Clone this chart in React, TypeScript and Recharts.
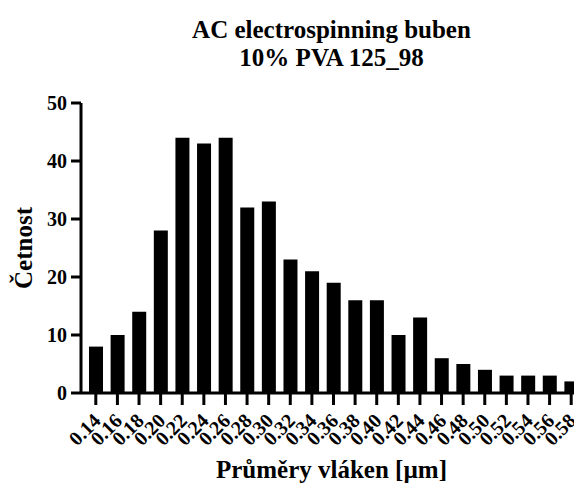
import React from 'react';
import { BarChart, Bar, XAxis, YAxis, Label } from 'recharts';

const diameters = [
    '0.14', '0.16', '0.18', '0.20', '0.22', '0.24', '0.26', '0.28', '0.30', '0.32', '0.34', '0.36',
    '0.38', '0.40', '0.42', '0.44', '0.46', '0.48', '0.50', '0.52', '0.54', '0.56', '0.58',
];
const counts = [8, 10, 14, 28, 44, 43, 44, 32, 33, 23, 21, 19, 16, 16, 10, 13, 6, 5, 4, 3, 3, 3, 2];
const yTicks = [0, 10, 20, 30, 40, 50];
const titleLines = ['AC electrospinning buben', '10% PVA 125_98'];
const xTitle = 'Průměry vláken [µm]';
const yTitle = 'Četnost';

const data = diameters.map((d, i) => ({ diameter: d, count: counts[i] }));

const FONT = 'Liberation Serif, Times New Roman, serif';
const textStyle = { fontFamily: FONT, fontWeight: 700, fill: '#000' };

// rotated category labels, text ends just under the tick mark
const AngledTick = (props: any) => {
    const { x, y, payload } = props;
    return (
        <g transform={`translate(${x + 6},${y + 15})`}>
            <text
                x={0}
                y={0}
                textAnchor="end"
                transform="rotate(-45)"
                style={{ ...textStyle, fontSize: 20 }}
            >
                {payload.value}
            </text>
        </g>
    );
};

export default function App() {
    return (
        <div
            style={{
                position: 'relative', width: 582, height: 491, margin: -8,
                background: '#fff', fontFamily: FONT,
            }}
        >
            {/* title, centred over the plot area */}
            <div
                style={{
                    position: 'absolute', left: 81, width: 501, top: 16,
                    textAlign: 'center', fontWeight: 'bold',
                    fontSize: 25, lineHeight: '28px', color: '#000',
                }}
            >
                {titleLines.map((t) => <div key={t}>{t}</div>)}
            </div>

            <BarChart
                width={582}
                height={491}
                data={data}
                margin={{ top: 103, right: 0, bottom: 38, left: 0 }}
                style={{ fontFamily: FONT }}
            >
                <XAxis
                    dataKey="diameter"
                    height={60}
                    interval={0}
                    padding={{ left: 4, right: 0 }}
                    stroke="#000"
                    strokeWidth={3}
                    tickSize={12}
                    tickLine={{ stroke: '#000', strokeWidth: 3 }}
                    tick={<AngledTick />}
                >
                    <Label
                        value={xTitle}
                        position="bottom"
                        offset={7}
                        style={{ ...textStyle, fontSize: 25 }}
                    />
                </XAxis>
                <YAxis
                    width={81}
                    domain={[0, 50]}
                    ticks={yTicks}
                    interval={0}
                    stroke="#000"
                    strokeWidth={3}
                    tickSize={10}
                    tickMargin={4}
                    tickLine={{ stroke: '#000', strokeWidth: 3 }}
                    tick={{ style: { ...textStyle, fontSize: 20 } }}
                >
                    <Label
                        value={yTitle}
                        angle={-90}
                        position="center"
                        dx={-17}
                        style={{ ...textStyle, fontSize: 25 }}
                    />
                </YAxis>
                <Bar dataKey="count" fill="#000" barSize={14} isAnimationActive={false} />
            </BarChart>
        </div>
    );
}
